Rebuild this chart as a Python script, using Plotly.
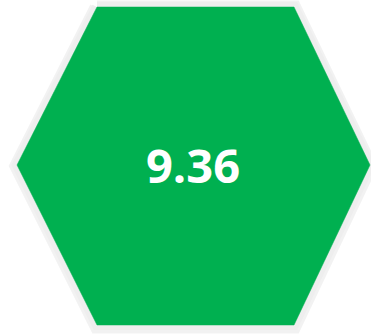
import plotly.graph_objects as go

# Data
value = 9.36
value_label = f"{value:.2f}"

# Hexagon outline (in pixel-like axis units)
hex_x = [97, 294, 370, 294, 97, 17, 97]
hex_y = [7, 7, 165, 325, 325, 165, 7]

fig = go.Figure()
# soft shadow
fig.add_trace(go.Scatter(x=hex_x, y=[v + 1 for v in hex_y], mode="lines",
                         line=dict(color="rgba(0,0,0,0.05)", width=15),
                         fill="toself", fillcolor="rgba(0,0,0,0.05)",
                         hoverinfo="skip", showlegend=False))
# light gray border
fig.add_trace(go.Scatter(x=hex_x, y=hex_y, mode="lines",
                         line=dict(color="#eeeeee", width=10),
                         fill="toself", fillcolor="#eeeeee",
                         hoverinfo="skip", showlegend=False))
# green hexagon
fig.add_trace(go.Scatter(x=hex_x, y=hex_y, mode="lines",
                         line=dict(color="#00B050", width=0.5),
                         fill="toself", fillcolor="#00B050",
                         hoverinfo="skip", showlegend=False))

fig.add_annotation(x=193, y=165, text=f"<b>{value_label}</b>", showarrow=False,
                   font=dict(family="Open Sans", size=47, color="white"),
                   xanchor="center", yanchor="middle")

fig.update_xaxes(range=[0, 371], visible=False, fixedrange=True)
fig.update_yaxes(range=[336, 0], visible=False, fixedrange=True)
fig.update_layout(width=371, height=336, margin=dict(l=0, r=0, t=0, b=0),
                  paper_bgcolor="white", plot_bgcolor="white")

fig.write_html("out.html", config={"displayModeBar": False},
               post_script="document.body.style.margin='0';document.body.style.overflow='hidden';")
